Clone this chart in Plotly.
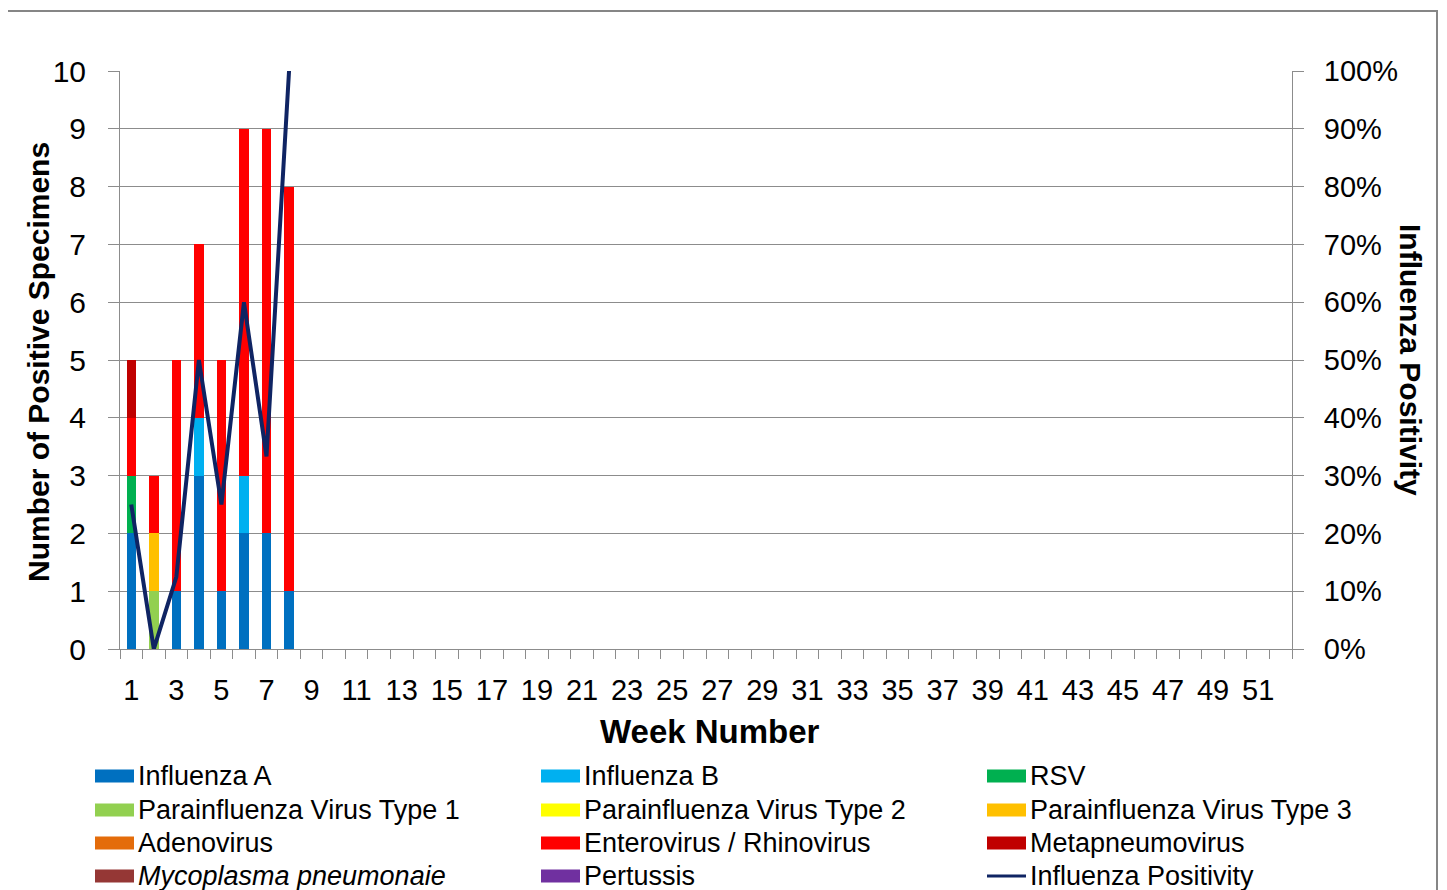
import plotly.graph_objects as go

weeks = list(range(1, 53))
data_weeks = [1, 2, 3, 4, 5, 6, 7, 8]

series_names = [
    "Influenza A", "Influenza B", "RSV",
    "Parainfluenza Virus Type 1", "Parainfluenza Virus Type 2", "Parainfluenza Virus Type 3",
    "Adenovirus", "Enterovirus / Rhinovirus", "Metapneumovirus",
    "Mycoplasma pneumonaie", "Pertussis",
]
series_colors = [
    "#0070C0", "#00B0F0", "#00B050",
    "#92D050", "#FFFF00", "#FFC000",
    "#E46C0A", "#FF0000", "#C00000",
    "#953735", "#7030A0",
]
influenza_a = [2, 0, 1, 3, 1, 2, 2, 1]
influenza_b = [0, 0, 0, 1, 0, 1, 0, 0]
rsv = [1, 0, 0, 0, 0, 0, 0, 0]
piv1 = [0, 1, 0, 0, 0, 0, 0, 0]
piv2 = [0, 0, 0, 0, 0, 0, 0, 0]
piv3 = [0, 1, 0, 0, 0, 0, 0, 0]
adenovirus = [0, 0, 0, 0, 0, 0, 0, 0]
entero_rhino = [1, 1, 4, 3, 4, 6, 7, 7]
metapneumo = [1, 0, 0, 0, 0, 0, 0, 0]
mycoplasma = [0, 0, 0, 0, 0, 0, 0, 0]
pertussis = [0, 0, 0, 0, 0, 0, 0, 0]
series_values = [influenza_a, influenza_b, rsv, piv1, piv2, piv3,
                 adenovirus, entero_rhino, metapneumo, mycoplasma, pertussis]
flu_positivity = [0.25, 0.0, 0.125, 0.50, 0.25, 0.60, 0.3333, 1.0]

x_tick_vals = list(range(1, 52, 2))
x_tick_text = [str(v) for v in x_tick_vals]
y_tick_vals = list(range(0, 11))
y2_tick_vals = [i / 10 for i in range(0, 11)]

FONT = "Liberation Sans, Arial, sans-serif"
GRID = "#8C8C8C"
LINE_COLOR = "#0F2463"

fig = go.Figure()
for name, color, vals in zip(series_names, series_colors, series_values):
    fig.add_trace(go.Bar(x=data_weeks, y=vals, name=name, marker_color=color,
                         marker_line_width=0, showlegend=False))
fig.add_trace(go.Scatter(x=data_weeks, y=flu_positivity, name="Influenza Positivity",
                         mode="lines", line=dict(color=LINE_COLOR, width=4),
                         yaxis="y2", showlegend=False, cliponaxis=False))

# page has an 8px body margin; figure coords = screen coords - 8
OFF = 8
W, H = 1447, 890
L, T = 120 - OFF, 71 - OFF
R, B = W - (1292 - OFF), H - (649 - OFF)
pw, ph = W - L - R, H - T - B

def px(sx):
    return (sx - OFF - L) / pw

def py(sy):
    return (H - B - (sy - OFF)) / ph

fig.update_layout(
    width=W, height=H,
    margin=dict(l=L, r=R, t=T, b=B, pad=0),
    paper_bgcolor="white", plot_bgcolor="white",
    barmode="stack", bargap=0.58,
    showlegend=False,
    font=dict(family=FONT, color="black"),
    xaxis=dict(
        range=[0.5, 52.5], tickmode="array", tickvals=x_tick_vals, ticktext=x_tick_text,
        ticks="outside", ticklen=15, tickcolor="rgba(0,0,0,0)",
        tickfont=dict(size=29, family=FONT), showgrid=False, zeroline=False,
        showline=True, linecolor=GRID, linewidth=1,
        minor=dict(tickmode="linear", tick0=0.5, dtick=1, ticks="outside",
                   ticklen=9, tickcolor=GRID, tickwidth=1, showgrid=False),
    ),
    yaxis=dict(
        range=[0, 10], tickmode="array", tickvals=y_tick_vals,
        ticks="outside", ticklen=11, tickcolor=GRID,
        tickfont=dict(size=30, family=FONT), showgrid=True, gridcolor=GRID,
        gridwidth=1, zeroline=False, showline=True, linecolor=GRID, linewidth=1,
        ticklabelstandoff=16,
    ),
    yaxis2=dict(
        range=[0, 1], overlaying="y", side="right", tickmode="array",
        tickvals=y2_tick_vals, tickformat=".0%", ticks="outside", ticklen=11,
        tickcolor=GRID, tickfont=dict(size=29, family=FONT), showgrid=False,
        zeroline=False, showline=True, linecolor=GRID, linewidth=1,
        ticklabelstandoff=14,
    ),
)

annotations = [
    dict(text="<b>Number of Positive Specimens</b>", x=px(38), y=py(362), xref="paper",
         yref="paper", showarrow=False, textangle=-90, font=dict(size=30, family=FONT),
         xanchor="center", yanchor="middle"),
    dict(text="<b>Influenza Positivity</b>", x=px(1411), y=py(360), xref="paper",
         yref="paper", showarrow=False, textangle=90, font=dict(size=30, family=FONT),
         xanchor="center", yanchor="middle"),
    dict(text="<b>Week Number</b>", x=px(710), y=py(731), xref="paper",
         yref="paper", showarrow=False, font=dict(size=33, family=FONT),
         xanchor="center", yanchor="middle"),
]

shapes = [
    dict(type="rect", xref="paper", yref="paper", x0=px(7), x1=px(1437),
         y0=py(905), y1=py(11), line=dict(color="#868686", width=2),
         fillcolor="rgba(0,0,0,0)", layer="below"),
]

legend_names = series_names + ["Influenza Positivity"]
legend_colors = series_colors + [LINE_COLOR]
col_x = [95, 541, 987]
row_y = [776, 810, 843, 876]
for i, (name, color) in enumerate(zip(legend_names, legend_colors)):
    cx = col_x[i % 3]
    ry = row_y[i // 3]
    if name == "Influenza Positivity":
        shapes.append(dict(type="line", xref="paper", yref="paper",
                           x0=px(cx), x1=px(cx + 39), y0=py(ry), y1=py(ry),
                           line=dict(color=color, width=3)))
    else:
        shapes.append(dict(type="rect", xref="paper", yref="paper",
                           x0=px(cx), x1=px(cx + 39), y0=py(ry + 6.5), y1=py(ry - 6.5),
                           fillcolor=color, line=dict(width=0)))
    label = f"<i>{name}</i>" if name == "Mycoplasma pneumonaie" else name
    annotations.append(dict(text=label, x=px(cx + 41), y=py(ry), xref="paper",
                            yref="paper", showarrow=False, xanchor="left",
                            yanchor="middle", font=dict(size=27, family=FONT)))

fig.update_layout(annotations=annotations, shapes=shapes)
fig.write_html("out.html")
